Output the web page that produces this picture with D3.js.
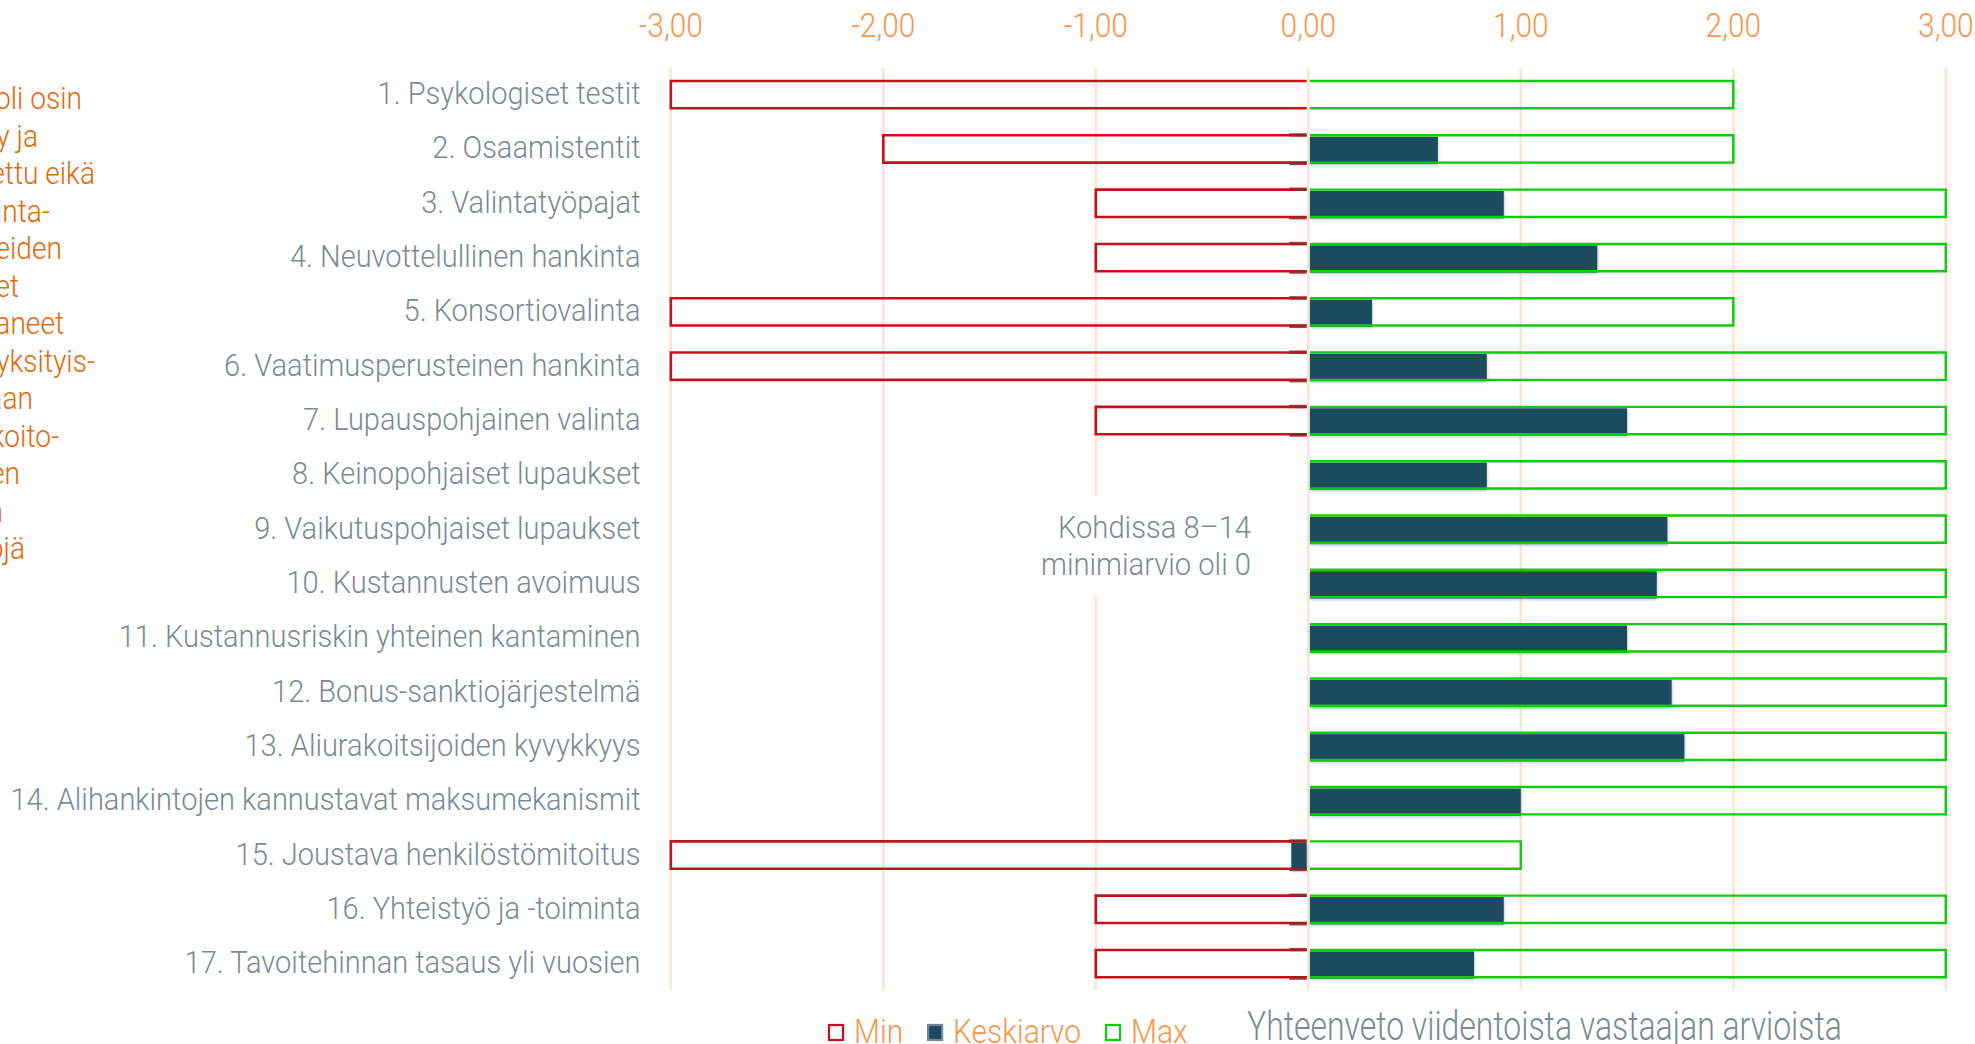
<!DOCTYPE html>
<html>
<head>
<meta charset="utf-8">
<script src="https://cdn.jsdelivr.net/npm/d3@7"></script>
<style>
  html, body { margin: 0; padding: 0; background: #ffffff; overflow: hidden; }
  svg { display: block; }
  text { font-family: Roboto, "Liberation Sans Narrow", sans-serif; font-weight: 300; }
</style>
</head>
<body>
<svg id="chart" width="1975" height="1044"></svg>
<script>
// ---------------- DATA ----------------
const categories = [
  "1. Psykologiset testit",
  "2. Osaamistentit",
  "3. Valintatyöpajat",
  "4. Neuvottelullinen hankinta",
  "5. Konsortiovalinta",
  "6. Vaatimusperusteinen hankinta",
  "7. Lupauspohjainen valinta",
  "8. Keinopohjaiset lupaukset",
  "9. Vaikutuspohjaiset lupaukset",
  "10. Kustannusten avoimuus",
  "11. Kustannusriskin yhteinen kantaminen",
  "12. Bonus-sanktiojärjestelmä",
  "13. Aliurakoitsijoiden kyvykkyys",
  "14. Alihankintojen kannustavat maksumekanismit",
  "15. Joustava henkilöstömitoitus",
  "16. Yhteistyö ja -toiminta",
  "17. Tavoitehinnan tasaus yli vuosien"
];
const minValues  = [-3, -2, -1, -1, -3, -3, -1, 0, 0, 0, 0, 0, 0, 0, -3, -1, -1];
const meanValues = [null, 0.61, 0.92, 1.36, 0.30, 0.84, 1.50, 0.84, 1.69, 1.64, 1.50, 1.71, 1.77, 1.00, -0.08, 0.92, 0.78];
const maxValues  = [2, 2, 3, 3, 2, 3, 3, 3, 3, 3, 3, 3, 3, 3, 1, 3, 3];
const tickValues = [-3, -2, -1, 0, 1, 2, 3];
const seriesNames = ["Min", "Keskiarvo", "Max"];
const noteLines = ["Kohdissa 8–14", "minimiarvio oli 0"];
const titleText = "Yhteenveto viidentoista vastaajan arvioista";
// side note continues beyond the left edge of the picture; only its ends are visible
const sideNoteLines = ["ssa oli osin", "olevy ja", "tettu eikä", "hankinta-", "ittajeiden", "tiet", "tuaneet", "ja yksityis-", "sekaan", "urakoito-", "iden", "on", "tapojä"];
const sideNoteRightEdges = [82, 38, 95, 50, 62, 19, 64, 95, 33, 59, 20, 3, 25];

// ---------------- STYLE ----------------
const C = {
  grid: "#fde4d4",
  red: "#c8101c",
  redDark: "#96232a",
  green: "#10cc10",
  mean: "#1b4b60",
  label: "#7b8a94",
  tick: "#f7964a",
  side: "#e3680a"
};

const svg = d3.select("#chart");
const defs = svg.append("defs");
const f = defs.append("filter").attr("id", "shadow").attr("x", "-10%").attr("y", "-30%").attr("width", "120%").attr("height", "160%");
f.append("feDropShadow").attr("dx", 0.5).attr("dy", 1.2).attr("stdDeviation", 1.4)
  .attr("flood-color", "#7d97aa").attr("flood-opacity", 0.55);

const x = d3.scaleLinear().domain([-3, 3]).range([670.8, 1945.8]);
const y = d3.scaleBand().domain(categories).range([67.5, 990.8]).paddingInner(0.497).paddingOuter(0.2485);
const bw = y.bandwidth();

const locale = d3.formatLocale({decimal: ",", thousands: " ", grouping: [3], currency: ["", "€"], minus: "-"});
const fmt = locale.format(".2f");

// condensed text helper
function measure(str, size) {
  const t = svg.append("text").attr("font-size", size).text(str);
  const w = t.node().getComputedTextLength();
  t.remove();
  return w;
}
const labelSize = 32, tickSize = 33, noteSize = 32, titleSize = 40, legendSize = 33, sideSize = 31;
const SX_LABEL = 263 / measure(categories[0], labelSize);
const SX_TICK = 64 / measure("-3,00", tickSize);
const SX_NOTE = 210 / measure(noteLines[1], noteSize);
const SX_TITLE = 595 / measure(titleText, titleSize);

function ctext(g, str, px, py, size, anchor, color, sx) {
  return g.append("text")
    .attr("transform", `translate(${px},${py}) scale(${sx},1)`)
    .attr("font-size", size)
    .attr("text-anchor", anchor)
    .attr("fill", color)
    .text(str);
}

// ---------------- GRID ----------------
const gGrid = svg.append("g");
gGrid.selectAll("line").data(tickValues).join("line")
  .attr("x1", d => x(d)).attr("x2", d => x(d))
  .attr("y1", 68).attr("y2", 990)
  .attr("stroke", C.grid).attr("stroke-width", 2.6);

// tick labels
const gTicks = svg.append("g");
tickValues.forEach(v => ctext(gTicks, fmt(v), x(v), 37, tickSize, "middle", C.tick, SX_TICK));

// ---------------- ANNOTATION (white box hides grid) ----------------
const gNote = svg.append("g");
gNote.append("rect").attr("x", 1030).attr("y", 496).attr("width", 228).attr("height", 99).attr("fill", "#fff");
noteLines.forEach((s, i) => ctext(gNote, s, 1251, 538 + i * 37, noteSize, "end", C.label, SX_NOTE));

// ---------------- BARS ----------------
const rows = categories.map((c, i) => ({c, min: minValues[i], mean: meanValues[i], max: maxValues[i]}));
const x0 = x(0);

// Min outlines (open on the zero side)
svg.append("g").selectAll("path").data(rows.filter(d => d.min < 0)).join("path")
  .attr("d", d => {
    const yy = y(d.c);
    return `M${x0 - 1.6},${yy} L${x(d.min)},${yy} L${x(d.min)},${yy + bw} L${x0 - 1.6},${yy + bw}`;
  })
  .attr("fill", "none").attr("stroke", C.red).attr("stroke-width", 2.6);

// Mean bars
svg.append("g").selectAll("rect").data(rows.filter(d => d.mean !== null)).join("rect")
  .attr("x", d => d.mean >= 0 ? x0 + 1.6 : x(d.mean))
  .attr("width", d => d.mean >= 0 ? x(d.mean) - x0 - 1.6 : x0 - 1.6 - x(d.mean))
  .attr("y", d => y(d.c) + 1.4)
  .attr("height", bw)
  .attr("fill", C.mean)
  .attr("filter", "url(#shadow)");

// Max outlines
svg.append("g").selectAll("path").data(rows.filter(d => d.max > 0)).join("path")
  .attr("d", d => {
    const yy = y(d.c);
    return `M${x0 + 1.6},${yy} L${x(d.max)},${yy} L${x(d.max)},${yy + bw} L${x0 + 1.6},${yy + bw}`;
  })
  .attr("fill", "none").attr("stroke", C.green).attr("stroke-width", 2.4);

// darker red stubs (shadow of mean series over min outline)
const gStub = svg.append("g");
rows.filter(d => d.min < 0 && d.mean !== null).forEach(d => {
  const yy = y(d.c);
  [yy - 0.4, yy + bw + 0.8].forEach(ly => {
    gStub.append("line").attr("x1", x0 - 19).attr("x2", x0 - 1.6)
      .attr("y1", ly).attr("y2", ly)
      .attr("stroke", C.redDark).attr("stroke-width", 3.4).attr("opacity", 0.85);
  });
});

// ---------------- CATEGORY LABELS ----------------
const gLab = svg.append("g");
rows.forEach(d => ctext(gLab, d.c, 640.5, y(d.c) + bw / 2 + 9.5, labelSize, "end", C.label, SX_LABEL));

// ---------------- SIDE NOTE (clipped at left edge) ----------------
const gSide = svg.append("g");
sideNoteLines.forEach((s, i) => ctext(gSide, s, sideNoteRightEdges[i], 109 + i * 37.5, sideSize, "end", C.side, SX_LABEL));

// ---------------- LEGEND ----------------
const gLeg = svg.append("g");
let lx = 828;
const legendStyles = [
  {fill: "#fff", stroke: C.red},
  {fill: C.mean, stroke: "#6f8797"},
  {fill: "#fff", stroke: C.green}
];
seriesNames.forEach((name, i) => {
  gLeg.append("rect").attr("x", lx + 1).attr("y", 1025).attr("width", 14).attr("height", 15)
    .attr("fill", legendStyles[i].fill).attr("stroke", legendStyles[i].stroke).attr("stroke-width", 2.2);
  const t = ctext(gLeg, name, lx + 26, 1043, legendSize, "start", C.tick, SX_LABEL);
  const w = t.node().getComputedTextLength() * SX_LABEL;
  lx += 26 + w + 24;
});

// ---------------- TITLE ----------------
ctext(svg.append("g"), titleText, 1247, 1040, titleSize, "start", C.label, SX_TITLE);
</script>
</body>
</html>
